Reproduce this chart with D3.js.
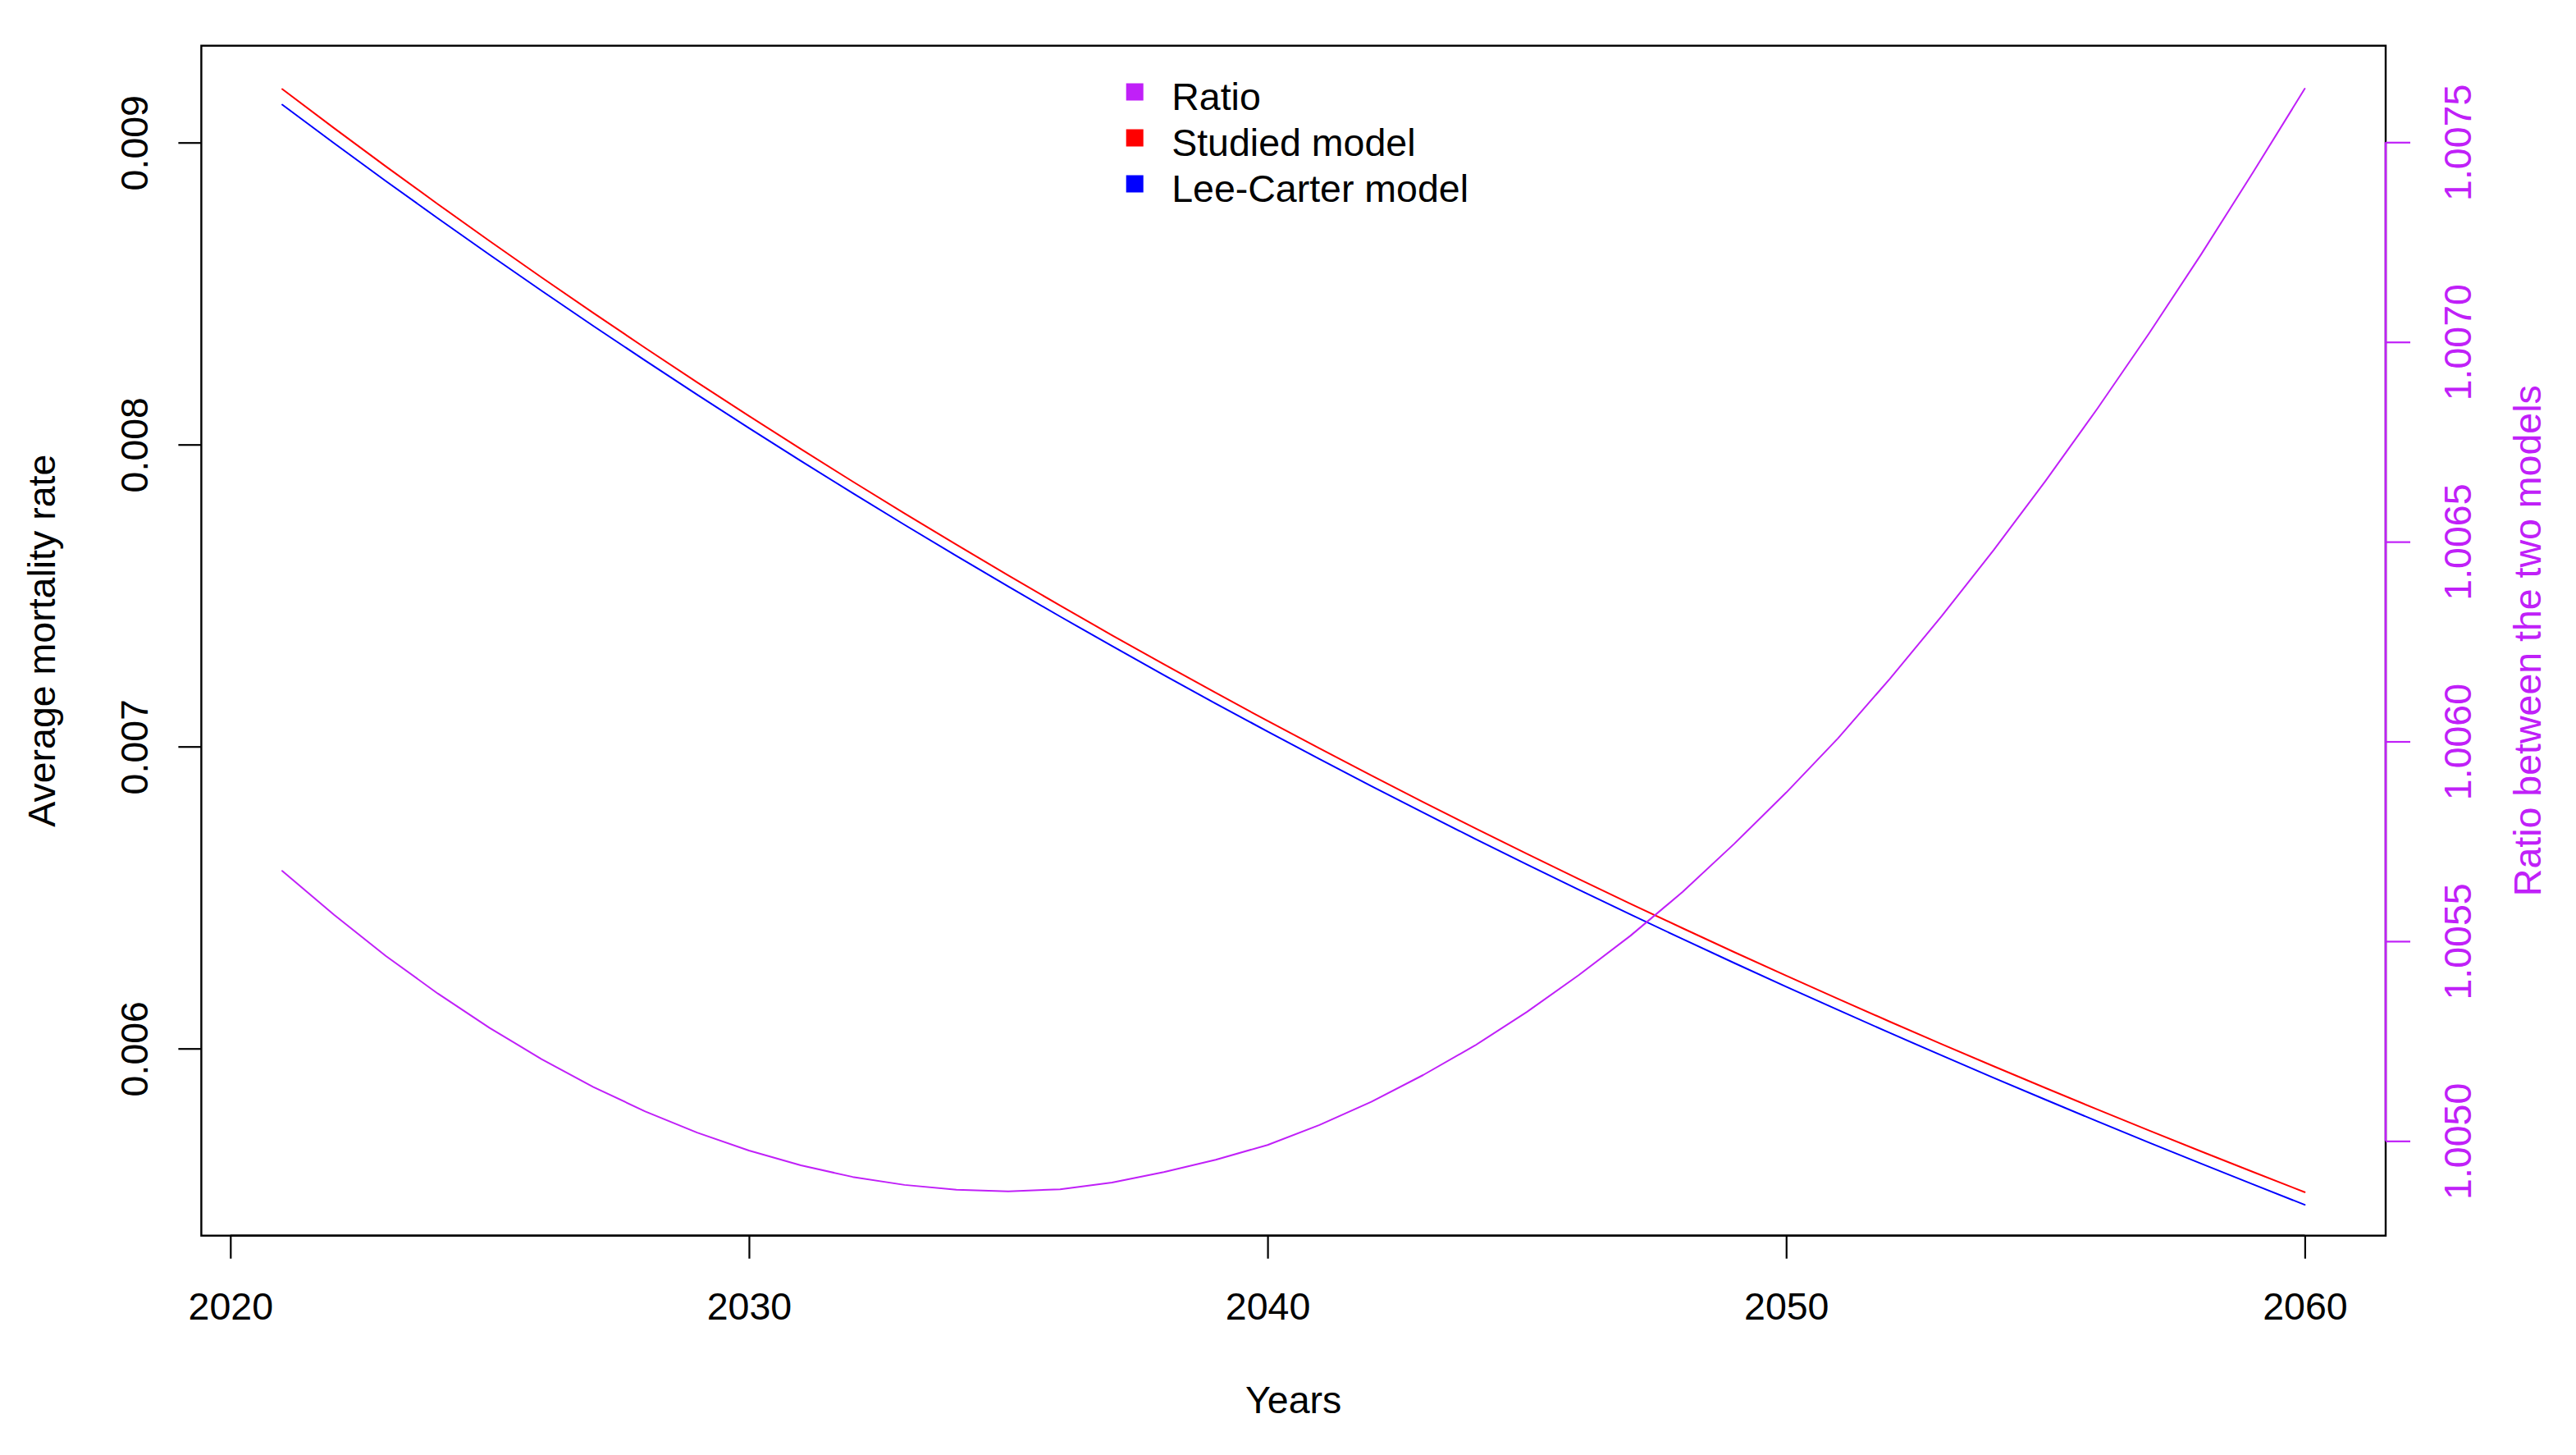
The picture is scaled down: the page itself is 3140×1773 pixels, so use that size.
<!DOCTYPE html>
<html>
<head>
<meta charset="utf-8">
<script src="https://cdn.jsdelivr.net/npm/d3@7"></script>
<style>
html, body { margin: 0; padding: 0; background: #ffffff; }
svg { display: block; }
</style>
</head>
<body>
<script>
// ---------------- data ----------------
const years = [2021, 2022, 2023, 2024, 2025, 2026, 2027, 2028, 2029, 2030,
               2031, 2032, 2033, 2034, 2035, 2036, 2037, 2038, 2039, 2040,
               2041, 2042, 2043, 2044, 2045, 2046, 2047, 2048, 2049, 2050,
               2051, 2052, 2053, 2054, 2055, 2056, 2057, 2058, 2059, 2060];

const studiedModel = [0.0091772, 0.0090478, 0.0089208, 0.0087962, 0.0086738, 0.0085536, 0.0084357, 0.0083199, 0.0082062, 0.0080947,
                      0.0079851, 0.0078776, 0.0077721, 0.0076685, 0.0075667, 0.0074668, 0.0073687, 0.0072725, 0.0071779, 0.0070850,
                      0.0069938, 0.0069043, 0.0068162, 0.0067298, 0.0066448, 0.0065613, 0.0064792, 0.0063986, 0.0063192, 0.0062412,
                      0.0061645, 0.0060889, 0.0060146, 0.0059414, 0.0058694, 0.0057984, 0.0057284, 0.0056595, 0.0055915, 0.0055244];

const leeCarterModel = [0.0091254, 0.0089977, 0.0088723, 0.0087492, 0.0086282, 0.0085093, 0.0083926, 0.0082779, 0.0081652, 0.0080546,
                        0.0079459, 0.0078391, 0.0077343, 0.0076313, 0.0075300, 0.0074306, 0.0073328, 0.0072369, 0.0071425, 0.0070498,
                        0.0069587, 0.0068693, 0.0067812, 0.0066947, 0.0066096, 0.0065260, 0.0064437, 0.0063628, 0.0062831, 0.0062048,
                        0.0061277, 0.0060516, 0.0059769, 0.0059032, 0.0058306, 0.0057591, 0.0056885, 0.0056189, 0.0055503, 0.0054826];

const ratioValues = [1.005676, 1.005566, 1.005463, 1.005369, 1.005283, 1.005205, 1.005135, 1.005074, 1.005021, 1.004976,
                     1.004939, 1.004910, 1.004890, 1.004878, 1.004874, 1.004879, 1.004896, 1.004922, 1.004953, 1.004990,
                     1.005040, 1.005098, 1.005165, 1.005239, 1.005323, 1.005415, 1.005514, 1.005623, 1.005744, 1.005872,
                     1.006008, 1.006157, 1.006314, 1.006479, 1.006652, 1.006833, 1.007022, 1.007219, 1.007424, 1.007634];

const xTickValues = [2020, 2030, 2040, 2050, 2060];
const leftTickValues = [0.006, 0.007, 0.008, 0.009];
const rightTickValues = [1.0050, 1.0055, 1.0060, 1.0065, 1.0070, 1.0075];

const legendLabels = ["Ratio", "Studied model", "Lee-Carter model"];

const xTitle = "Years";
const leftTitle = "Average mortality rate";
const rightTitle = "Ratio between the two models";

// ---------------- style ----------------
const PURPLE = "#c020f8";
const RED = "#ff0000";
const BLUE = "#0000ff";
const legendColors = [PURPLE, RED, BLUE];
const FONT = "'Liberation Sans', Arial, Helvetica, sans-serif";
const FS = 46.5;

const W = 3140, H = 1773;
const plotL = 245.4, plotR = 2908, plotT = 55.7, plotB = 1505.7;

const svg = d3.select("body").append("svg")
  .attr("width", W).attr("height", H)
  .attr("viewBox", `0 0 ${W} ${H}`)
  .style("font-family", FONT);

svg.append("rect").attr("width", W).attr("height", H).attr("fill", "#ffffff");

// scales (R-style 4% padded domains)
const x = d3.scaleLinear().domain([2019.44, 2061.56]).range([plotL, plotR]);
const yL = d3.scaleLinear().domain([0.0053804, 0.0093207]).range([plotB, plotT]);
const yR = d3.scaleLinear().domain([1.004763, 1.0077416]).range([plotB, plotT]);

// ---------------- data lines ----------------
const lineL = d3.line().x((d, i) => x(years[i])).y(d => yL(d));
const lineR = d3.line().x((d, i) => x(years[i])).y(d => yR(d));

const lines = svg.append("g")
  .attr("fill", "none")
  .attr("stroke-width", 2)
  .attr("stroke-linejoin", "round")
  .attr("stroke-linecap", "round");

lines.append("path").attr("d", lineL(studiedModel)).attr("stroke", RED);
lines.append("path").attr("d", lineL(leeCarterModel)).attr("stroke", BLUE);
lines.append("path").attr("d", lineR(ratioValues)).attr("stroke", PURPLE);

// ---------------- box ----------------
svg.append("rect")
  .attr("x", plotL).attr("y", plotT)
  .attr("width", plotR - plotL).attr("height", plotB - plotT)
  .attr("fill", "none").attr("stroke", "#000").attr("stroke-width", 2.4);

// ---------------- axes ----------------
function styleAxis(g, color) {
  g.select(".domain").remove();
  g.selectAll(".tick line").attr("stroke", color).attr("stroke-width", 2.2);
  g.selectAll(".tick text")
    .attr("fill", color)
    .style("font-size", FS + "px")
    .style("font-family", FONT);
}

// bottom axis
const gx = svg.append("g")
  .attr("transform", `translate(0,${plotB})`)
  .call(d3.axisBottom(x).tickValues(xTickValues).tickSize(28).tickFormat(d3.format("d")));
styleAxis(gx, "#000");
gx.selectAll(".tick text").attr("y", 102.3).attr("dy", null);
gx.append("line")
  .attr("x1", x(xTickValues[0])).attr("x2", x(xTickValues[xTickValues.length - 1]))
  .attr("stroke", "#000").attr("stroke-width", 2.2);

// left axis
const gl = svg.append("g")
  .attr("transform", `translate(${plotL},0)`)
  .call(d3.axisLeft(yL).tickValues(leftTickValues).tickSize(28).tickFormat(d3.format(".3f")));
styleAxis(gl, "#000");
gl.selectAll(".tick text")
  .attr("x", null).attr("dy", null)
  .attr("text-anchor", "middle")
  .attr("transform", "translate(-65.4,0) rotate(-90)");

// right axis (purple)
const gr = svg.append("g")
  .attr("transform", `translate(${plotR},0)`)
  .call(d3.axisRight(yR).tickValues(rightTickValues).tickSize(30).tickFormat(d3.format(".4f")));
styleAxis(gr, PURPLE);
gr.selectAll(".tick text")
  .attr("x", null).attr("dy", null)
  .attr("text-anchor", "middle")
  .attr("transform", "translate(104,0) rotate(-90)");
gr.append("line")
  .attr("x1", 0).attr("x2", 0)
  .attr("y1", yR(rightTickValues[0])).attr("y2", yR(rightTickValues[rightTickValues.length - 1]))
  .attr("stroke", PURPLE).attr("stroke-width", 2.6);

// ---------------- titles ----------------
const midX = (plotL + plotR) / 2, midY = (plotT + plotB) / 2;
svg.append("text")
  .attr("x", midX).attr("y", 1722)
  .attr("text-anchor", "middle")
  .style("font-size", FS + "px").attr("fill", "#000")
  .text(xTitle);

svg.append("text")
  .attr("transform", `translate(66.7,${midY}) rotate(-90)`)
  .attr("text-anchor", "middle")
  .style("font-size", FS + "px").attr("fill", "#000")
  .text(leftTitle);

svg.append("text")
  .attr("transform", `translate(3097,${midY}) rotate(-90)`)
  .attr("text-anchor", "middle")
  .style("font-size", FS + "px").attr("fill", PURPLE)
  .text(rightTitle);

// ---------------- legend ----------------
const legend = svg.append("g");
const legRows = legend.selectAll("g").data(legendLabels).join("g")
  .attr("transform", (d, i) => `translate(0,${112 + i * 56})`);
legRows.append("rect")
  .attr("x", 1372.7).attr("y", -10.5)
  .attr("width", 21).attr("height", 21)
  .attr("fill", (d, i) => legendColors[i]);
legRows.append("text")
  .attr("x", 1428.2).attr("y", 21.7)
  .style("font-size", FS + "px").attr("fill", "#000")
  .text(d => d);
</script>
</body>
</html>
